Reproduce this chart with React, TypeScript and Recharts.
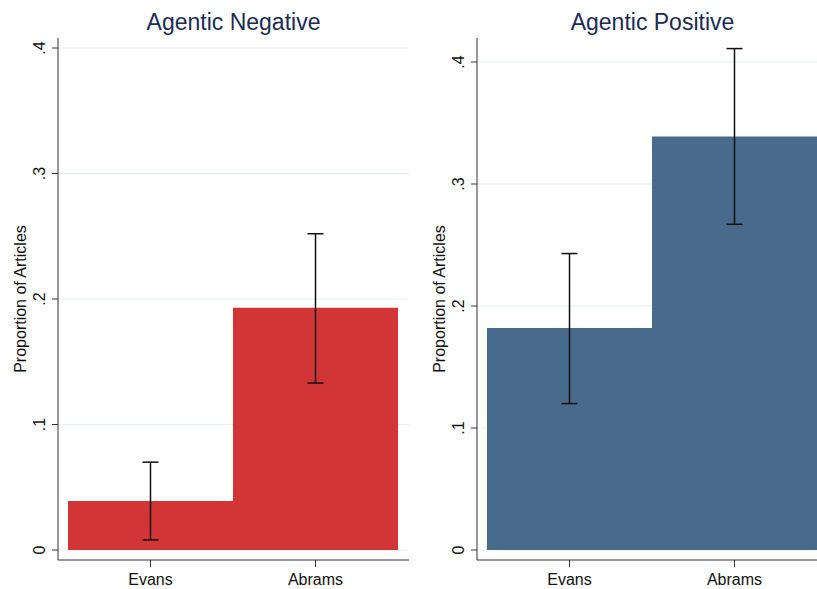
import React from "react";
import { BarChart, Bar, XAxis, YAxis, CartesianGrid, ErrorBar, Label } from "recharts";

const categories = ["Evans", "Abrams"];

const negativeValues = [0.039, 0.193];
const negativeLower = [0.008, 0.133];
const negativeUpper = [0.07, 0.252];

const positiveValues = [0.182, 0.339];
const positiveLower = [0.12, 0.267];
const positiveUpper = [0.243, 0.411];

const yTicks = [0, 0.1, 0.2, 0.3, 0.4];

const FONT = "Arial, 'Liberation Sans', sans-serif";

function buildRows(values: number[], lower: number[], upper: number[]) {
  return categories.map((name, i) => ({
    name,
    value: values[i],
    err: [values[i] - lower[i], upper[i] - values[i]],
  }));
}

const fmt = (v: number) => (v === 0 ? "0" : String(v).replace(/^0/, ""));

function YTick(props: any) {
  const { x, y, payload } = props;
  return (
    <text
      x={x}
      y={y}
      transform={`rotate(-90, ${x}, ${y})`}
      textAnchor="middle"
      fill="#111"
      fontSize={16}
      fontFamily={FONT}
    >
      {fmt(payload.value)}
    </text>
  );
}

function Panel({
  title,
  rows,
  color,
  left,
  axisWidth,
  padTop,
}: {
  title: string;
  rows: any[];
  color: string;
  left: number;
  axisWidth: number;
  padTop: number;
}) {
  const width = 420;
  const marginRight = width - axisWidth - 351;
  return (
    <div style={{ position: "absolute", left, top: 0, width, height: 589 }}>
      <div
        style={{
          position: "absolute",
          left: axisWidth,
          top: 8,
          width: 351,
          height: 28,
          lineHeight: "28px",
          textAlign: "center",
          fontFamily: FONT,
          fontSize: 23,
          color: "#1c2b55",
        }}
      >
        {title}
      </div>
      <BarChart
        width={width}
        height={589}
        data={rows}
        margin={{ top: 38, right: marginRight, left: 0, bottom: 0 }}
        barCategoryGap={0}
        barGap={0}
      >
        <CartesianGrid vertical={false} horizontalValues={yTicks} stroke="#e6eff1" strokeWidth={1} />
        <XAxis
          dataKey="name"
          height={29}
          padding={{ left: 10, right: 11 }}
          tickSize={7}
          tickMargin={7}
          stroke="#333"
          tick={{ fill: "#111", fontSize: 16, fontFamily: FONT }}
        />
        <YAxis
          width={axisWidth}
          domain={[0, 0.4]}
          allowDataOverflow
          ticks={yTicks}
          padding={{ top: padTop, bottom: 10 }}
          tickSize={6}
          tickMargin={7}
          stroke="#333"
          tick={<YTick />}
        >
          <Label
            content={() => {
              const cx = axisWidth - 38;
              const cy = 38 + 261;
              return (
                <text
                  x={cx}
                  y={cy}
                  transform={`rotate(-90, ${cx}, ${cy})`}
                  textAnchor="middle"
                  dominantBaseline="central"
                  fill="#111"
                  fontSize={16}
                  fontFamily={FONT}
                >
                  Proportion of Articles
                </text>
              );
            }}
          />
        </YAxis>
        <Bar dataKey="value" fill={color} isAnimationActive={false}>
          <ErrorBar dataKey="err" width={8} stroke="#111" strokeWidth={1.5} direction="y" />
        </Bar>
      </BarChart>
    </div>
  );
}

export default function App() {
  return (
    <div
      style={{
        position: "absolute",
        left: 0,
        top: 0,
        width: 817,
        height: 589,
        overflow: "hidden",
        background: "#fff",
      }}
    >
      <Panel
        title="Agentic Negative"
        rows={buildRows(negativeValues, negativeLower, negativeUpper)}
        color="#d23536"
        left={0}
        axisWidth={58}
        padTop={10}
      />
      <Panel
        title="Agentic Positive"
        rows={buildRows(positiveValues, positiveLower, positiveUpper)}
        color="#486a8b"
        left={420}
        axisWidth={57}
        padTop={24}
      />
    </div>
  );
}
